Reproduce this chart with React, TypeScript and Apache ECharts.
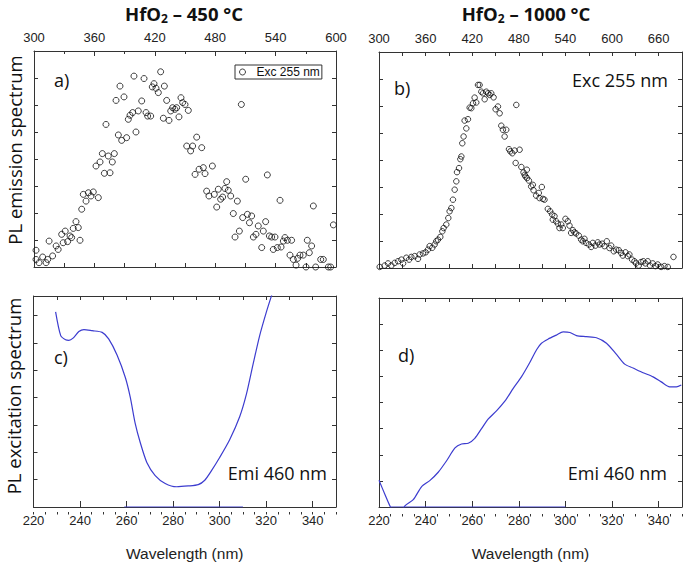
import React, { useEffect, useRef } from "react";
import * as echarts from "echarts";

// Panel a) HfO2 450 °C, PL emission (Exc 255 nm)
const aWavelength = [302,302,305,308.6,312,313.6,315,318.5,322,324,327.5,329,331,333.4,335.8,337.4,339,341.7,344,345.7,347.4,349,351.7,354,356.6,358.9,361.6,363.9,365.6,367.9,369.9,371.5,373.8,375.5,377.8,379.8,381.5,383.8,385.4,387.1,389.4,392,393.7,395.4,398,399.3,401.3,403.6,407,409.3,411.3,412.9,415.9,417.5,419.2,421.2,423.5,425.8,428.5,429.5,431.8,434.1,435.8,437.7,440,441.7,444,446,447.7,450,451.7,453.3,455.6,457.6,460,461.6,464,466.6,468.2,469.9,471.5,473.8,477.2,479.1,481.5,483.1,485.4,487.4,489.7,491.4,493,495.4,498,499.7,502,504,506,507.3,510.3,512,514,516.2,517.9,520.5,522.8,526.2,527.8,530.1,531.8,533.8,536.1,537.7,539.4,541.7,544.4,545.4,547.7,549.3,551.7,554.3,555.9,557.6,560.3,561.9,564.2,567.5,570.2,571.5,573.5,575.8,577.5,579.8,584.8,587.4,592.4,594.7,597.4];
const aIntensity = [0.62,0.28,0.16,0.37,0.16,0.28,0.96,0.41,0.78,0.65,1.21,0.9,1.33,0.94,1.15,1.09,1.43,1.68,1.46,0.99,2.14,2.69,2.44,2.75,2.63,2.78,3.74,2.57,3.89,4.2,3.47,5.28,4.11,3.49,3.89,4.2,6.17,4.89,6.7,4.69,6.3,4.79,5.47,5.62,5.72,7.07,5.0,5.78,6.15,6.98,5.72,5.59,5.59,6.67,6.79,6.62,6.46,7.23,5.51,6.7,6.17,5.43,5.78,5.9,5.84,5.9,5.56,6.27,6.09,6.02,4.48,5.8,4.3,4.48,3.43,4.81,3.62,4.42,3.68,3.46,2.81,2.63,3.74,2.69,2.22,2.88,2.51,2.59,2.91,3.16,2.84,2.63,1.98,1.11,2.44,1.33,6.02,1.83,3.25,1.95,1.64,1.89,1.11,1.21,1.52,0.72,1.33,1.68,3.41,1.15,1.11,0.65,1.11,0.72,2.47,0.74,0.96,1.09,0.99,0.44,0.99,0.28,0.07,0.32,0.44,0.44,0,0.99,0.53,0.78,2.26,0,0.28,0.28,0,0,1.56];

// Panel b) HfO2 1000 °C, PL emission (Exc 255 nm)
const bWavelength = [300.9,307.3,311.6,315.9,320.2,324.5,328.8,331,335.2,338.7,341.6,345.9,350.2,352.3,356.6,360,363,365.2,368.6,371.6,373.7,375.9,378.9,381.5,383.2,386.6,389.2,390.9,393.1,395.2,397.4,399.5,400.4,403,404.7,406,407.2,408.9,410.2,412.4,414.5,416.7,418.8,421,423.1,425.2,427.4,429.5,431.7,433.8,436,438.1,440.3,442.4,444.5,447.5,450.1,453.1,455.3,457.4,459.5,461.7,463.8,467.3,469,471.6,474.6,475.9,476.7,481,483.2,486,487.5,488.6,490.3,490.5,492.9,495.9,498,498.9,502.3,505.7,506.6,509.6,510.9,513,517.3,520.3,522.9,523.7,525.9,528,530.2,532.3,534.5,536.6,540,543,545.2,547.3,549.5,551.6,553.7,557.2,560.2,562.3,564.5,566.6,570.1,573.1,575.2,578.6,581.6,583.8,587.2,590.2,593.2,596.6,598.8,602.2,605.2,608.6,611.6,613.8,617.2,620.2,622.3,625.8,628.8,630.9,634.3,637.3,640.3,642.9,645.9,648.9,652.4,655.8,658.8,663.1,667.4,671.7,679];
const bIntensity = [0.04,0.09,0.17,0.09,0.19,0.25,0.31,0.17,0.38,0.31,0.41,0.44,0.34,0.5,0.54,0.58,0.68,0.81,0.75,0.87,0.99,1.05,1.15,1.36,1.48,1.61,1.85,2.1,2.22,2.53,2.9,3.21,3.55,3.7,4.03,4.13,4.62,4.87,5.46,5.17,5.51,5.94,5.92,6.1,6.31,6.13,6.78,6.78,6.53,6.47,6.25,6.53,6.47,6.41,6.47,6.32,5.88,5.98,5.73,5.27,5.12,4.87,5.12,4.4,4.32,4.25,4.35,3.89,6.04,4.38,3.74,3.54,3.45,3.39,3.64,3.33,3.24,3.02,3.08,2.88,2.68,2.78,2.59,3.0,2.56,2.53,2.19,2.1,1.98,1.79,1.92,1.73,1.64,1.48,1.61,1.48,1.82,1.73,1.57,1.3,1.4,1.32,1.28,1.2,1.05,0.99,1.08,0.93,0.87,0.78,0.93,0.83,0.95,0.87,0.9,0.81,0.99,0.74,0.83,0.62,0.68,0.66,0.56,0.46,0.58,0.44,0.5,0.31,0.25,0.17,0.09,0.22,0.25,0.17,0.25,0.09,0.17,0.07,0.13,0.04,0.07,0.04,0.41];

// Panel c) HfO2 450 °C, PL excitation (Emi 460 nm)
const cWavelength = [229.5,231.7,233.8,235.2,237,239.5,241.7,245.2,249.5,252.3,255.9,259.5,261.6,263.7,265.9,268.7,272.3,276.6,281.5,286.5,290.8,293.6,296.5,300,304.3,308.6,311.5,314.3,317.2,320,322.4,324.5];
const cIntensity = [7.14,6.27,6.12,6.1,6.18,6.42,6.49,6.45,6.39,6.15,5.56,4.73,4.01,3.06,2.35,1.63,1.15,0.86,0.74,0.77,0.82,0.98,1.33,1.81,2.46,3.3,4.13,5.2,6.27,7.11,7.76,8.3];
const cBaseWavelength = [259, 310];
const cBaseIntensity = [0, 0];

// Panel d) HfO2 1000 °C, PL excitation (Emi 460 nm)
const dWavelength = [220,222.6,224.7,227,229,231.1,234.7,238.3,241.9,245.4,249,252.6,255.4,258.3,261.1,264,266.9,270.4,274,277.6,281.1,284.7,287.6,289.7,292.6,296.1,299,301.9,304.7,309,313.3,317.6,321.9,325.4,329,333.3,337.6,341.1,344.7,347.6,349.7];
const dIntensity = [1.02,0.47,0.04,-0.3,-0.3,0.04,0.28,0.78,1.02,1.33,1.77,2.26,2.41,2.44,2.63,3.0,3.37,3.68,4.05,4.54,4.98,5.53,6.02,6.27,6.43,6.58,6.7,6.68,6.56,6.52,6.48,6.27,5.84,5.47,5.32,5.14,4.98,4.79,4.6,4.6,4.67];
const dBaseWavelength = [225, 300];
const dBaseIntensity = [0, 0];

const topTicksA = [300, 360, 420, 480, 540, 600];
const topTicksB = [300, 360, 420, 480, 540, 600, 660];
const bottomTicksCD = [220, 240, 260, 280, 300, 320, 340];

const pairs = (xs: number[], ys: number[]) => xs.map((x, i) => [x, ys[i]]);

const FRAME = "#333";
const BLUE = "#3c3ccf";
const TICK_FONT = "Liberation Sans, Arial, sans-serif";
const CAL = "Open Sans, sans-serif";

const line = { show: true, onZero: false, lineStyle: { color: FRAME, width: 1 } };

function xAx(gridIndex: number, position: string, min: number, max: number, interval: number, opts: any = {}) {
  return {
    type: "value",
    gridIndex,
    position,
    min,
    max,
    interval,
    axisLine: line,
    axisTick: { show: true, inside: true, length: 4, lineStyle: { color: FRAME } },
    axisLabel: { show: false },
    splitLine: { show: false },
    ...opts,
  };
}

function yAx(gridIndex: number, position: string, max: number) {
  return {
    type: "value",
    gridIndex,
    position,
    min: 0,
    max,
    interval: 1,
    axisLine: line,
    axisTick: { show: true, inside: true, length: 4, lineStyle: { color: FRAME } },
    axisLabel: { show: false },
    splitLine: { show: false },
  };
}

const labelFmt = (allowed: number[]) => (v: number) => (allowed.indexOf(Math.round(v)) >= 0 ? String(Math.round(v)) : "");

const topLabel = (allowed: number[]) => ({
  show: true,
  fontSize: 13,
  fontFamily: TICK_FONT,
  color: "#222",
  margin: 7,
  formatter: labelFmt(allowed),
});

const bottomLabel = {
  show: true,
  fontSize: 13,
  fontFamily: TICK_FONT,
  color: "#222",
  margin: 7,
  formatter: labelFmt(bottomTicksCD),
};

const wlName = {
  name: "Wavelength (nm)",
  nameLocation: "middle",
  nameGap: 38,
  nameTextStyle: { fontSize: 15.5, fontFamily: TICK_FONT, color: "#222" },
};

function titleText(x: number, temp: string) {
  return {
    type: "text",
    x,
    y: 13,
    style: {
      text: "{n|HfO}{s|2}{n| – " + temp + " °C}",
      align: "center",
      verticalAlign: "middle",
      rich: {
        n: { fontSize: 18.5, fontWeight: "bold", fontFamily: CAL, fill: "#111", lineHeight: 22 },
        s: { fontSize: 12, fontWeight: "bold", fontFamily: CAL, fill: "#111", lineHeight: 14, verticalAlign: "bottom" },
      },
    },
  };
}

function plainText(x: number, y: number, text: string, align: string = "left", rotation = 0, size = 18) {
  return {
    type: "text",
    x,
    y,
    rotation,
    style: { text, align, verticalAlign: "middle", fontSize: size, fontFamily: CAL, fill: "#111" },
  };
}

export default function App() {
  const ref = useRef<HTMLDivElement>(null);
  useEffect(() => {
    if (!ref.current) return;
    const chart = echarts.init(ref.current, null, { renderer: "svg" });
    const option: any = {
      animation: false,
      backgroundColor: "#fff",
      grid: [
        { left: 34, top: 51, width: 302, height: 216 },
        { left: 379, top: 52, width: 303, height: 216 },
        { left: 33.5, top: 296, width: 302.5, height: 216 },
        { left: 379, top: 298, width: 303, height: 216 },
        { left: 33.5, top: 296, width: 302.5, height: 216 },
        { left: 379, top: 298, width: 303, height: 216 },
      ],
      xAxis: [
        xAx(0, "bottom", 300, 600, 30),
        xAx(0, "top", 300, 600, 60, {
          axisTick: { show: true, inside: true, length: 5, lineStyle: { color: FRAME } },
          minorTick: { show: true, splitNumber: 2, length: 3, lineStyle: { color: FRAME } },
          axisLabel: topLabel(topTicksA),
        }),
        xAx(1, "bottom", 300, 690, 30),
        xAx(1, "top", 300, 690, 30, { axisLabel: topLabel(topTicksB) }),
        xAx(2, "bottom", 220, 350, 20, {
          axisTick: { show: true, inside: true, length: 6, lineStyle: { color: FRAME } },
          axisLabel: bottomLabel,
          ...wlName,
        }),
        xAx(2, "top", 220, 350, 10),
        xAx(3, "bottom", 220, 350, 20, {
          axisTick: { show: true, inside: true, length: 6, lineStyle: { color: FRAME } },
          axisLabel: bottomLabel,
          ...wlName,
        }),
        xAx(3, "top", 220, 350, 10),
        xAx(4, "bottom", 220, 350, 5, {
          axisLine: { show: false, onZero: false },
          axisTick: { show: true, inside: false, length: 2.5, lineStyle: { color: FRAME } },
        }),
        xAx(5, "bottom", 220, 350, 5, {
          axisLine: { show: false, onZero: false },
          axisTick: { show: true, inside: false, length: 2.5, lineStyle: { color: FRAME } },
        }),
      ],
      yAxis: [
        yAx(0, "left", 8),
        yAx(0, "right", 8),
        yAx(1, "left", 8),
        yAx(1, "right", 8),
        yAx(2, "left", 7.72),
        yAx(2, "right", 7.72),
        yAx(3, "left", 8),
        yAx(3, "right", 8),
        { type: "value", gridIndex: 4, show: false, min: 0, max: 1 },
        { type: "value", gridIndex: 5, show: false, min: 0, max: 1 },
      ],
      legend: {
        data: [
          {
            name: "Exc 255 nm",
            icon: "circle",
            itemStyle: { color: "rgba(0,0,0,0)", borderColor: "#111", borderWidth: 1 },
          },
        ],
        left: 235,
        top: 65,
        orient: "horizontal",
        itemWidth: 18,
        itemHeight: 6,
        padding: [1, 2, 1, 4],
        borderColor: "#333",
        borderWidth: 1,
        backgroundColor: "#fff",
        selectedMode: false,
        textStyle: { fontSize: 12, fontFamily: TICK_FONT, color: "#111" },
      },
      series: [
        {
          name: "Exc 255 nm",
          type: "scatter",
          xAxisIndex: 0,
          yAxisIndex: 0,
          symbol: "circle",
          symbolSize: 6,
          itemStyle: { color: "rgba(0,0,0,0)", borderColor: "#111", borderWidth: 1 },
          data: pairs(aWavelength, aIntensity),
        },
        {
          name: "Exc 255 nm (1000 °C)",
          type: "scatter",
          xAxisIndex: 2,
          yAxisIndex: 2,
          symbol: "circle",
          symbolSize: 5.5,
          itemStyle: { color: "rgba(0,0,0,0)", borderColor: "#111", borderWidth: 1 },
          data: pairs(bWavelength, bIntensity),
        },
        {
          name: "Emi 460 nm (450 °C)",
          type: "line",
          xAxisIndex: 4,
          yAxisIndex: 4,
          showSymbol: false,
          smooth: 0.25,
          clip: true,
          lineStyle: { color: BLUE, width: 1.2 },
          data: pairs(cWavelength, cIntensity),
        },
        {
          name: "base c",
          type: "line",
          xAxisIndex: 4,
          yAxisIndex: 4,
          showSymbol: false,
          lineStyle: { color: BLUE, width: 1 },
          data: pairs(cBaseWavelength, cBaseIntensity),
        },
        {
          name: "Emi 460 nm (1000 °C)",
          type: "line",
          xAxisIndex: 6,
          yAxisIndex: 6,
          showSymbol: false,
          smooth: 0.25,
          clip: true,
          lineStyle: { color: BLUE, width: 1.2 },
          data: pairs(dWavelength, dIntensity),
        },
        {
          name: "base d",
          type: "line",
          xAxisIndex: 6,
          yAxisIndex: 6,
          showSymbol: false,
          lineStyle: { color: BLUE, width: 1 },
          data: pairs(dBaseWavelength, dBaseIntensity),
        },
      ],
      graphic: [
        titleText(184, "450"),
        titleText(526, "1000"),
        plainText(14, 150, "PL emission spectrum", "center", Math.PI / 2, 18.5),
        plainText(13, 396, "PL excitation spectrum", "center", Math.PI / 2, 18.5),
        plainText(54, 80, "a)"),
        plainText(394, 88, "b)"),
        plainText(668, 80, "Exc 255 nm", "right"),
        plainText(54, 357, "c)"),
        plainText(398, 355, "d)"),
        plainText(327, 473, "Emi 460 nm", "right"),
        plainText(667, 473, "Emi 460 nm", "right"),
      ],
    };
    chart.setOption(option);
    return () => chart.dispose();
  }, []);
  return (
    <div
      ref={ref}
      style={{ position: "fixed", left: 0, top: 0, width: 685, height: 562, background: "#fff" }}
    />
  );
}
